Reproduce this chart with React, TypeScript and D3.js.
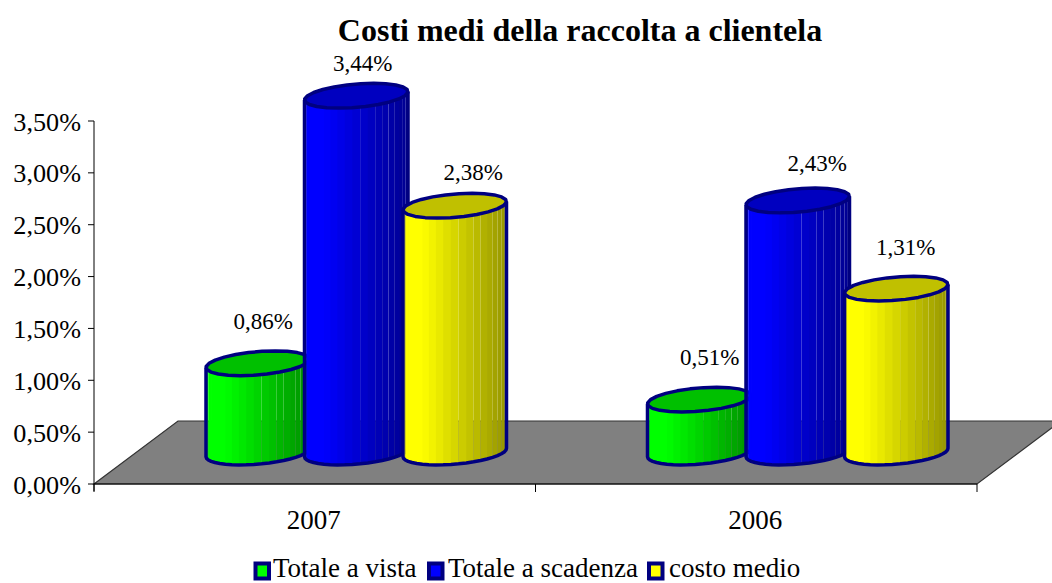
import React from "react";
import * as d3 from "d3";

const categories = ["2007", "2006"];
const seriesNames = ["Totale a vista", "Totale a scadenza", "costo medio"];
// bar heights (the 2006 yellow bar is drawn taller than its label says)
const barsBySeries = [
  [0.86, 0.51],
  [3.44, 2.43],
  [2.38, 1.58],
];
const labelsBySeries = [
  ["0,86%", "0,51%"],
  ["3,44%", "2,43%"],
  ["2,38%", "1,31%"],
];
const yTicks = [0, 0.5, 1, 1.5, 2, 2.5, 3, 3.5];

const W = 1052;
const H = 583;
const FONT = "'Liberation Serif', 'Times New Roman', serif";
const NAVY = "#000080";

const front = ["#00ff00", "#0000ff", "#ffff00"];
const shade = ["#009000", "#000090", "#959500"];
const lid = ["#00c000", "#0000c0", "#c0c000"];

// label nudges from the top of each bar
const labelDx = [[5, 10], [6, 19], [18, 9]];
const labelDy = [[-34, -35], [-25, -29], [-26, -34]];

const legendSwatch = [253.5, 427, 647];
const legendText = [273, 448, 669];

// floor depth, in px
const depthX = 84;
const depthY = -63;

// facet edges where the light streak shows through
const seams = [2, 11, 13, 14, 15, 16, 17, 18, 19];

const x0 = d3.scaleBand().domain(categories).range([94, 977]);
const x1 = d3.scaleBand().domain(["0", "1", "2"]).range([-147.75, 147.75]);
const y = d3.scaleLinear().domain([0, 3.5]).range([484, 121]);

const line = d3.line();
const fmt = (v: number) => v.toFixed(2).replace(".", ",") + "%";

const A = 48.7;
const B = 17.5;
const C = 12.4;
const T0 = Math.PI + Math.atan2(B, A);

function ring(cx: number, cy: number, t: number): [number, number] {
  return [cx + A * Math.cos(t) + B * Math.sin(t), cy - C * Math.sin(t)];
}

function Cylinder({ cx, cy, h, s }: { cx: number; cy: number; h: number; s: number }) {
  const N = 21;
  const ts = d3.range(N + 1).map((i) => T0 + (Math.PI * i) / N);
  const color = d3
    .scaleLinear<string>()
    .domain([0, 0.18, 1])
    .range([front[s], front[s], shade[s]])
    .clamp(true);
  const width = 2 * Math.hypot(A, B);
  const left = cx - width / 2;
  const top = cy - h;
  const bottomEdge = ts.map((t) => ring(cx, cy, t));
  const outline = [ring(cx, top, ts[0]), ...bottomEdge, ring(cx, top, ts[N])];
  const lidPts = d3.range(24).map((i) => ring(cx, top, (i / 24) * Math.PI * 2));
  return (
    <g>
      {d3.range(N).map((i) => {
        const a = ts[i];
        const b = ts[i + 1];
        // overlap the next facet unless this edge is a seam
        const over = seams.includes(i + 1) || i === N - 1 ? 0 : 0.8;
        const tr = ring(cx, top, b);
        const br = ring(cx, cy, b);
        const pts: [number, number][] = [
          ring(cx, top, a),
          [tr[0] + over, tr[1]],
          [br[0] + over, br[1]],
          ring(cx, cy, a),
        ];
        const mid = (pts[0][0] + tr[0]) / 2;
        return <path key={i} d={line(pts) + "Z"} fill={color((mid - left) / width)} />;
      })}
      <path d={line(outline) ?? ""} fill="none" stroke={NAVY} strokeWidth={3.5} strokeLinejoin="round" />
      <path d={line(lidPts) + "Z"} fill={lid[s]} stroke={NAVY} strokeWidth={3.5} strokeLinejoin="round" />
    </g>
  );
}

export default function App() {
  const xL = x0.range()[0];
  const xR = x0.range()[1];
  const y0 = y(0);
  const floor: [number, number][] = [
    [xL, y0],
    [xL + depthX, y0 + depthY],
    [xR + depthX, y0 + depthY],
    [xR, y0],
  ];
  const unit = y(0) - y(1);
  const baseY = y0 + depthY / 2;
  return (
    <svg
      width={W}
      height={H}
      style={{ position: "absolute", left: 0, top: 0, display: "block", background: "#fff" }}
      fontFamily={FONT}
    >
      <text x={580} y={41} textAnchor="middle" fontSize={32} fontWeight="bold">
        Costi medi della raccolta a clientela
      </text>

      <path d={line(floor) + "Z"} fill="#808080" stroke="#333" strokeWidth={1.2} />

      <line x1={xL} x2={xL} y1={y(3.5)} y2={y0 + 7} stroke="#000" strokeWidth={1} />
      <line x1={xL} x2={xR} y1={y0} y2={y0} stroke="#000" strokeWidth={1} />
      {yTicks.map((t) => (
        <g key={t}>
          <line x1={xL - 6} x2={xL} y1={y(t)} y2={y(t)} stroke="#000" strokeWidth={1} />
          <text x={81} y={y(t) + 9.5} textAnchor="end" fontSize={26.2}>
            {fmt(t)}
          </text>
        </g>
      ))}
      {[xL, xL + x0.step(), xR].map((t) => (
        <line key={t} x1={t} x2={t} y1={y0} y2={y0 + 8} stroke="#000" strokeWidth={1} />
      ))}
      {categories.map((c) => (
        <text key={c} x={(x0(c) ?? 0) + x0.bandwidth() / 2 - 1} y={529} textAnchor="middle" fontSize={27}>
          {c}
        </text>
      ))}

      {categories.map((c, ci) => {
        const center = (x0(c) ?? 0) + x0.bandwidth() / 2 + depthX / 2;
        return (
          <g key={c}>
            {seriesNames.map((_, s) => {
              const cx = center + (x1(String(s)) ?? 0) + x1.bandwidth() / 2 - 0.5;
              const h = barsBySeries[s][ci] * unit;
              return <Cylinder key={s} cx={cx} cy={baseY} h={h} s={s} />;
            })}
          </g>
        );
      })}

      {categories.map((c, ci) => {
        const center = (x0(c) ?? 0) + x0.bandwidth() / 2 + depthX / 2;
        return seriesNames.map((_, s) => {
          const cx = center + (x1(String(s)) ?? 0) + x1.bandwidth() / 2;
          const top = baseY - barsBySeries[s][ci] * unit;
          return (
            <text key={c + s} x={cx + labelDx[s][ci]} y={top + labelDy[s][ci]} textAnchor="middle" fontSize={23}>
              {labelsBySeries[s][ci]}
            </text>
          );
        });
      })}

      {seriesNames.map((n, s) => (
        <g key={n}>
          <rect x={legendSwatch[s] + 2} y={563.5} width={13.5} height={15} fill={front[s]} stroke={NAVY} strokeWidth={4} />
          <text x={legendText[s]} y={577} fontSize={27}>
            {n}
          </text>
        </g>
      ))}
    </svg>
  );
}
